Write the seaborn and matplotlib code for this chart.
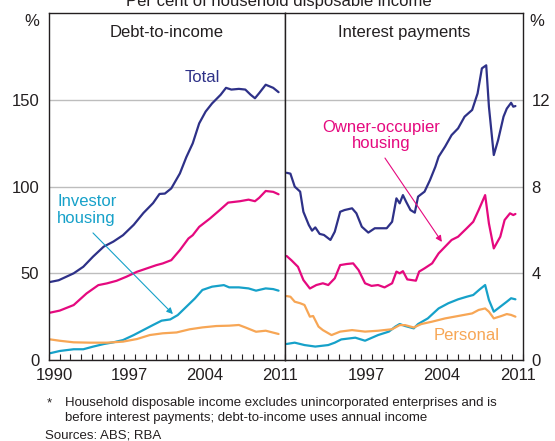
import numpy as np
import pandas as pd
import matplotlib
matplotlib.use('Agg')
import matplotlib.pyplot as plt
import seaborn as sns

# ---- Debt-to-income, per cent (left panel) ----
total_debt_years = [1990.1, 1990.9, 1992.3, 1993.2, 1994.1, 1995.1, 1996.0, 1996.9, 1997.9, 1998.8,
                    1999.7, 2000.3, 2000.8, 2001.4, 2002.2, 2002.8, 2003.4, 2004.0, 2004.6, 2005.2,
                    2006.0, 2006.5, 2007.0, 2007.7, 2008.3, 2008.8, 2009.2, 2009.6, 2010.2, 2010.9, 2011.4]
total_debt = [45, 46, 50, 53.8, 59.6, 65.4, 68.3, 72, 78, 84.8,
              90.5, 95.8, 96, 99, 107.6, 117, 125, 136.5, 143.3, 148,
              153, 157, 156, 156.4, 156, 153, 151, 154, 158.8, 157, 154.5]

owner_debt_years = [1990.1, 1991.0, 1992.3, 1993.5, 1994.6, 1995.4, 1996.3, 1997.2, 1998.2, 1999.1,
                    2000.0, 2000.6, 2001.4, 2002.2, 2003.0, 2003.4, 2004.0, 2005.0, 2005.9, 2006.7,
                    2007.8, 2008.6, 2009.2, 2009.6, 2010.2, 2010.9, 2011.4]
owner_debt = [27.3, 28.5, 31.7, 38.4, 43.2, 44.2, 45.7, 48, 50.9, 52.8,
              54.7, 55.7, 57.6, 63.4, 70.1, 72, 76.8, 81.6, 86.4, 90.8,
              91.6, 92.5, 91.6, 93.6, 97.5, 97, 95.6]

investor_debt_years = [1990.1, 1991.0, 1992.3, 1993.2, 1994.1, 1995.1, 1996.0, 1996.9, 1997.9, 1998.8,
                       1999.7, 2000.5, 2001.3, 2002.0, 2002.8, 2003.6, 2004.3, 2005.2, 2006.3, 2006.8,
                       2007.7, 2008.6, 2009.3, 2010.2, 2010.9, 2011.4]
investor_debt = [3.9, 5.2, 6.2, 6.2, 7.7, 9.2, 10.2, 11.5, 14.4, 17.3,
                 20.2, 22.7, 23.4, 25.9, 30.7, 35.5, 40.4, 42.3, 43.2, 41.9,
                 41.9, 41.3, 40, 41.3, 40.9, 40]

personal_debt_years = [1990.1, 1991.0, 1992.3, 1993.8, 1995.4, 1996.9, 1998.2, 1999.4, 2000.6, 2001.9,
                       2003.1, 2004.3, 2005.6, 2006.8, 2007.7, 2008.3, 2009.3, 2010.2, 2011.4]
personal_debt = [11.9, 11.1, 10.2, 10, 10, 10.6, 12.1, 14.4, 15.4, 15.9,
                 17.7, 18.8, 19.6, 19.8, 20.2, 18.8, 16.3, 16.9, 15]

# ---- Interest payments, per cent (right panel) ----
total_int_years = [1990.15, 1990.5, 1990.9, 1991.4, 1991.7, 1992.2, 1992.5, 1992.8, 1993.2, 1993.6,
                   1994.2, 1994.6, 1995.1, 1995.5, 1996.2, 1996.6, 1997.1, 1997.7, 1998.3, 1998.9,
                   1999.4, 1999.9, 2000.3, 2000.6, 2000.9, 2001.2, 2001.6, 2002.0, 2002.3, 2002.9,
                   2003.4, 2003.9, 2004.2, 2004.8, 2005.4, 2006.0, 2006.6, 2007.3, 2007.8, 2008.2,
                   2008.6, 2008.85, 2009.3, 2009.7, 2010.2, 2010.5, 2010.9, 2011.1, 2011.3]
total_int = [8.64, 8.6, 8.0, 7.77, 6.84, 6.23, 5.97, 6.12, 5.82, 5.77,
             5.54, 5.92, 6.84, 6.92, 7.0, 6.77, 6.15, 5.88, 6.08, 6.08,
             6.08, 6.38, 7.46, 7.23, 7.61, 7.3, 6.92, 6.8, 7.54, 7.77,
             8.3, 8.92, 9.38, 9.85, 10.38, 10.69, 11.23, 11.54, 12.3, 13.46,
             13.6, 11.69, 9.46, 10.15, 11.23, 11.6, 11.87, 11.69, 11.72]

owner_int_years = [1990.15, 1990.6, 1991.2, 1991.7, 1992.3, 1992.9, 1993.5, 1994.0, 1994.6, 1995.1,
                   1995.7, 1996.3, 1996.8, 1997.4, 1998.0, 1998.6, 1999.2, 1999.9, 2000.3, 2000.6,
                   2000.9, 2001.3, 2001.7, 2002.1, 2002.4, 2002.9, 2003.6, 2004.2, 2004.8, 2005.4,
                   2006.0, 2006.8, 2007.4, 2007.9, 2008.5, 2008.85, 2009.3, 2009.9, 2010.3, 2010.8,
                   2011.1, 2011.3]
owner_int = [4.8, 4.6, 4.3, 3.69, 3.3, 3.46, 3.54, 3.46, 3.77, 4.38,
             4.43, 4.46, 4.15, 3.54, 3.42, 3.46, 3.35, 3.54, 4.08, 4.0,
             4.1, 3.72, 3.69, 3.66, 4.08, 4.23, 4.46, 4.92, 5.23, 5.54,
             5.69, 6.08, 6.38, 6.92, 7.61, 6.3, 5.15, 5.69, 6.46, 6.77,
             6.69, 6.74]

investor_int_years = [1990.15, 1990.9, 1991.8, 1992.8, 1994.0, 1994.6, 1995.2, 1996.5, 1997.4, 1998.6,
                      1999.6, 2000.2, 2000.6, 2001.1, 2001.9, 2002.3, 2003.2, 2004.2, 2005.1, 2006.0,
                      2006.8, 2007.4, 2008.0, 2008.5, 2008.85, 2009.3, 2009.9, 2010.5, 2010.9, 2011.3]
investor_int = [0.74, 0.8, 0.69, 0.62, 0.69, 0.8, 0.95, 1.03, 0.89, 1.15,
                1.31, 1.54, 1.66, 1.57, 1.46, 1.66, 1.92, 2.38, 2.62, 2.8,
                2.92, 3.0, 3.26, 3.46, 2.77, 2.23, 2.46, 2.69, 2.85, 2.8]

personal_int_years = [1990.15, 1990.5, 1990.9, 1991.4, 1991.8, 1992.3, 1992.6, 1993.1, 1993.5, 1994.3,
                      1995.1, 1996.2, 1997.4, 1998.6, 1999.9, 2000.6, 2001.1, 2001.9, 2002.6, 2003.6,
                      2004.8, 2006.0, 2007.3, 2007.9, 2008.5, 2008.85, 2009.3, 2010.0, 2010.5, 2010.9,
                      2011.3]
personal_int = [2.95, 2.92, 2.69, 2.62, 2.54, 2.0, 2.03, 1.54, 1.38, 1.15,
                1.31, 1.38, 1.31, 1.35, 1.42, 1.61, 1.61, 1.5, 1.66, 1.77,
                1.92, 2.03, 2.15, 2.31, 2.38, 2.23, 1.92, 2.03, 2.12, 2.08,
                2.0]

series_names = ['Total', 'Owner-occupier housing', 'Investor housing', 'Personal']
colors = ['#2E3188', '#E5097F', '#16A1C9', '#F7A655']

x_tick_labels = ['1990', '1997', '2004', '2011']
left_yticks = [0, 50, 100, 150]
right_yticks = [0, 4, 8, 12]


def to_long(pairs):
    frames = []
    for name, (yrs, vals) in zip(series_names, pairs):
        frames.append(pd.DataFrame({'year': yrs, 'value': vals, 'series': name}))
    return pd.concat(frames, ignore_index=True)


debt_df = to_long([(total_debt_years, total_debt), (owner_debt_years, owner_debt),
                   (investor_debt_years, investor_debt), (personal_debt_years, personal_debt)])
int_df = to_long([(total_int_years, total_int), (owner_int_years, owner_int),
                  (investor_int_years, investor_int), (personal_int_years, personal_int)])

sns.set_style('white')
plt.rcParams['font.family'] = ['Liberation Sans', 'DejaVu Sans']
TXT = '#231F20'
GRID = '#BDBDBD'
palette = dict(zip(series_names, colors))

fig = plt.figure(figsize=(5.55, 4.41), dpi=100)
W, H = 555, 441
ax1 = fig.add_axes([49 / W, (H - 360) / H, 236 / W, 346.7 / H])
ax2 = fig.add_axes([285 / W, (H - 360) / H, 238 / W, 346.7 / H])

sns.lineplot(data=debt_df, x='year', y='value', hue='series', palette=palette,
             lw=1.6, legend=False, ax=ax1, sort=False, estimator=None)
sns.lineplot(data=int_df, x='year', y='value', hue='series', palette=palette,
             lw=1.6, legend=False, ax=ax2, sort=False, estimator=None)

for ax, ylim, yt, labs in [(ax1, 200, left_yticks, x_tick_labels),
                           (ax2, 16, right_yticks, x_tick_labels[1:])]:
    ax.set_xlim(1990, 2012)
    ax.set_ylim(0, ylim)
    ax.set_xlabel('')
    ax.set_ylabel('')
    ax.set_xticks(range(1990, 2013))
    ax.set_xticklabels([])
    ax.tick_params(axis='x', which='major', direction='in', length=4, width=0.8,
                   color=TXT, bottom=True)
    ax.set_xticks([int(l) + 0.5 for l in labs], labels=labs, minor=True)
    ax.tick_params(axis='x', which='minor', length=0, pad=6, labelsize=12, labelcolor=TXT)
    ax.set_yticks(yt)
    ax.set_yticklabels([str(v) for v in yt])
    ax.tick_params(axis='y', length=0, labelsize=12, labelcolor=TXT, pad=7)
    ax.grid(axis='y', color=GRID, lw=1)
    ax.grid(axis='x', visible=False)
    for sp in ax.spines.values():
        sp.set_color(TXT)
        sp.set_linewidth(1)
    ax.set_axisbelow(True)

ax2.yaxis.tick_right()
ax2.tick_params(axis='y', length=0, pad=6)

# Panel titles
ax1.text(0.5, 0.965, 'Debt-to-income', transform=ax1.transAxes, ha='center', va='top',
         fontsize=12, color=TXT)
ax2.text(0.5, 0.965, 'Interest payments', transform=ax2.transAxes, ha='center', va='top',
         fontsize=12, color=TXT)

# % unit labels
fig.text(32 / W, 1 - 21 / H, '%', ha='center', va='center', fontsize=12, color=TXT)
fig.text(537 / W, 1 - 21 / H, '%', ha='center', va='center', fontsize=12, color=TXT)

# Series labels
ax1.text(2004.26, 162.7, 'Total', ha='center', va='center', fontsize=12, color=colors[0])
ax1.text(1990.75, 86.6, 'Investor\nhousing', ha='left', va='center', fontsize=12,
         color=colors[2], linespacing=1.15)
ax1.annotate('', xy=(2001.55, 26.5), xytext=(1994.1, 73.3),
             arrowprops=dict(arrowstyle='-|>', color=colors[2], lw=0.8,
                             mutation_scale=9, shrinkA=0, shrinkB=0))
ax2.text(1998.87, 10.36, 'Owner-occupier\nhousing', ha='center', va='center', fontsize=12,
         color=colors[1], linespacing=1.15)
ax2.annotate('', xy=(2004.5, 5.45), xytext=(1999.24, 9.32),
             arrowprops=dict(arrowstyle='-|>', color=colors[1], lw=0.8,
                             mutation_scale=9, shrinkA=0, shrinkB=0))
ax2.text(2006.8, 1.15, 'Personal', ha='center', va='center', fontsize=12, color=colors[3])

# Figure title (cut at the top edge as in the source)
fig.text(282 / W, 1 - 6 / H, 'Per cent of household disposable income*', ha='center',
         va='baseline', fontsize=12, color=TXT)

# Footnotes
fig.text(47 / W, 1 - 403 / H, '*', ha='left', va='center', fontsize=9.5, color=TXT)
fig.text(65 / W, 1 - 403 / H,
         'Household disposable income excludes unincorporated enterprises and is',
         ha='left', va='center', fontsize=9.5, color=TXT)
fig.text(65 / W, 1 - 418 / H, 'before interest payments; debt-to-income uses annual income',
         ha='left', va='center', fontsize=9.5, color=TXT)
fig.text(45 / W, 1 - 435 / H, 'Sources: ABS; RBA', ha='left', va='center', fontsize=9.5,
         color=TXT)

fig.savefig('out.png', dpi=100)
